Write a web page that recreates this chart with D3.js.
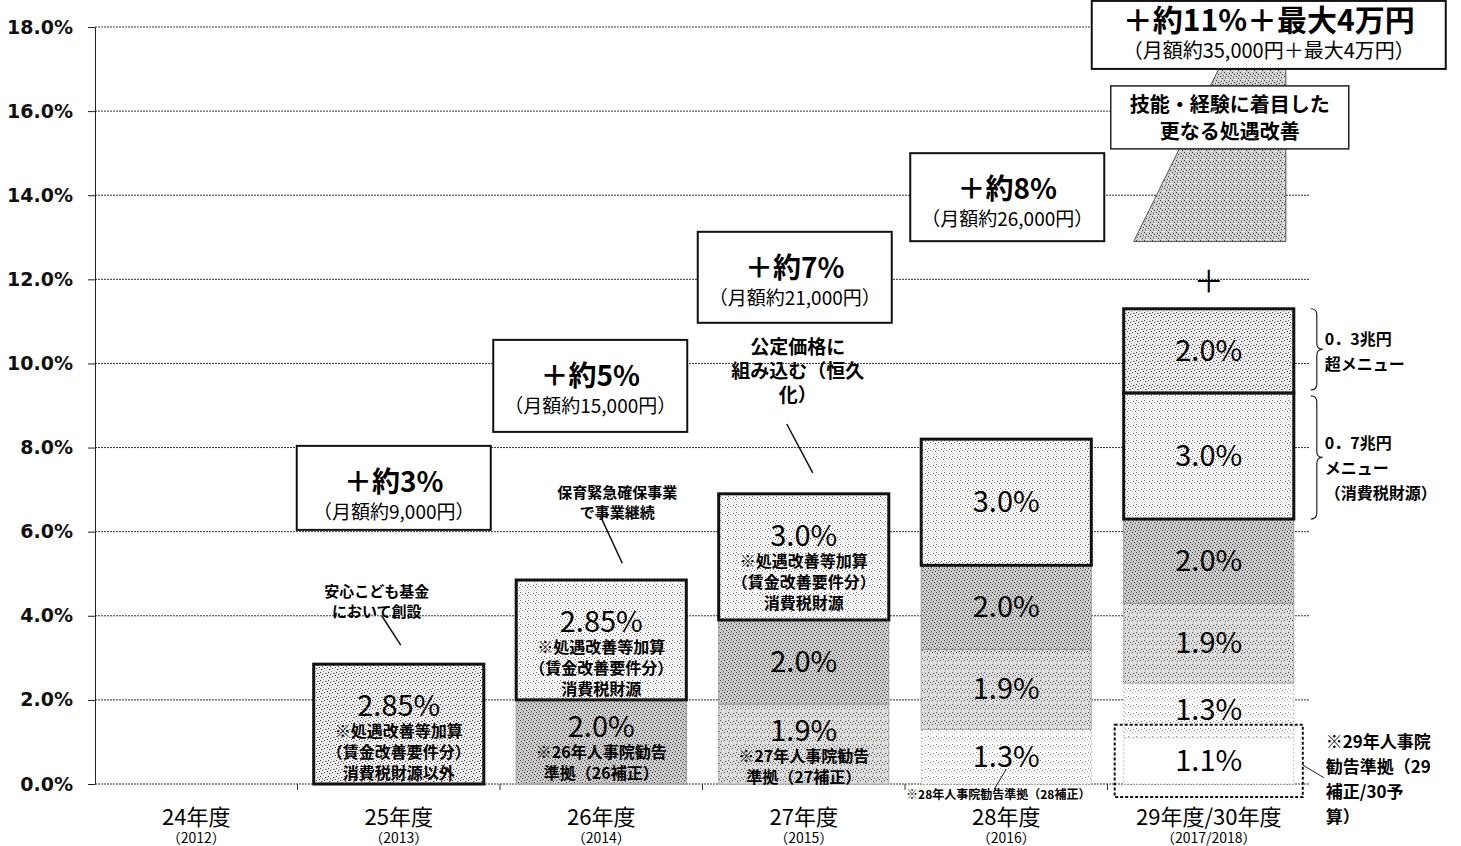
<!DOCTYPE html>
<html lang="ja">
<head>
<meta charset="utf-8">
<title>保育士等の処遇改善の推移</title>
<script src="https://d3js.org/d3.v7.min.js"></script>
<style>
body { margin: 0; background: #fff; }
text { font-family: "Noto Sans CJK JP", sans-serif; fill: #000; }
.grid line { stroke: #333; stroke-width: 1; stroke-dasharray: 2,1; }
.yaxis text { font-family: "DejaVu Sans", sans-serif; font-weight: bold; font-size: 19px; fill: #111; }
.yaxis path, .yaxis line { stroke: #222; }
</style>
</head>
<body>
<script>

// ---- data ----
var years   = ["24年度", "25年度", "26年度", "27年度", "28年度", "29年度/30年度"];
var yearsAD = ["（2012）", "（2013）", "（2014）", "（2015）", "（2016）", "（2017/2018）"];
var yTicks  = [0, 2, 4, 6, 8, 10, 12, 14, 16, 18];

// stacked segments, bottom to top (%)
var jinji29 = [0, 0, 0, 0, 0, 1.1];       // 29年人事院勧告準拠
var jinji28 = [0, 0, 0, 0, 1.3, 1.3];     // 28年人事院勧告準拠
var jinji27 = [0, 0, 0, 1.9, 1.9, 1.9];   // 27年人事院勧告準拠
var jinji26 = [0, 0, 2.0, 2.0, 2.0, 2.0]; // 26年人事院勧告準拠
var shogu   = [0, 2.85, 2.85, 3.0, 3.0, 3.0]; // 処遇改善等加算
var menu03  = [0, 0, 0, 0, 0, 2.0];       // 0.3兆円超メニュー

var totalLabels   = ["", "＋約3%", "＋約5%", "＋約7%", "＋約8%", "＋約11%＋最大4万円"];
var monthlyLabels = ["", "（月額約9,000円）", "（月額約15,000円）", "（月額約21,000円）", "（月額約26,000円）", "（月額約35,000円＋最大4万円）"];

var shoguNotes = [[], ["※処遇改善等加算", "（賃金改善要件分）", "消費税財源以外"],
                  ["※処遇改善等加算", "（賃金改善要件分）", "消費税財源"],
                  ["※処遇改善等加算", "（賃金改善要件分）", "消費税財源"], [], []];
var jinji26Notes = [[], [], ["※26年人事院勧告", "準拠（26補正）"], [], [], []];
var jinji27Notes = [[], [], [], ["※27年人事院勧告", "準拠（27補正）"], [], []];

var callout25 = ["安心こども基金", "において創設"];
var callout26 = ["保育緊急確保事業", "で事業継続"];
var callout27 = ["公定価格に", "組み込む（恒久", "化）"];
var note28 = "※28年人事院勧告準拠（28補正）";
var note29 = ["※29年人事院", "勧告準拠（29", "補正/30予", "算）"];
var menuLabels03 = ["0．3兆円", "超メニュー"];
var menuLabels07 = ["0．7兆円", "メニュー", "（消費税財源）"];
var ginouLabel = ["技能・経験に着目した", "更なる処遇改善"];

// ---- layout ----
var width = 1461, height = 846;
var margin = {top: 27, right: 151, bottom: 62, left: 95};

var x = d3.scaleBand().domain(years)
  .range([margin.left, width - margin.right])
  .paddingInner(0.16).paddingOuter(0.08);
var y = d3.scaleLinear().domain([0, 18]).range([height - margin.bottom, margin.top]);

var svg = d3.select("body").append("svg")
  .attr("width", width).attr("height", height);

// stipple patterns
var defs = svg.append("defs");
var scatter = [[0,0],[5,1],[2,2],[7,3],[4,4],[1,5],[6,6],[3,7],[2,5],[6,1],[0,3],[4,7],[7,5],[1,2],[5,3],[3,0]];
function pattern(id, bg, dark, nDark, light, nLight) {
  var p = defs.append("pattern").attr("id", id).attr("patternUnits", "userSpaceOnUse")
    .attr("width", 8).attr("height", 8);
  p.append("rect").attr("width", 8).attr("height", 8).attr("fill", bg);
  scatter.forEach(function(d, k) {
    var c = k < nDark ? dark : (k < nDark + nLight ? light : null);
    if (!c) return;
    p.append("rect").attr("x", d[0]).attr("y", d[1]).attr("width", 1).attr("height", 1).attr("fill", c);
  });
}
pattern("pShogu", "#f7f7f7", "#666", 4, "#bbb", 3);
pattern("pCross", "#eeeeee", "#444", 6, "#aaa", 4);
pattern("p26", "#c4c4c4", "#444", 8, "#eee", 5);
pattern("p27", "#d8d8d8", "#555", 6, "#f4f4f4", 5);
pattern("p28", "#fbfbfb", "#888", 3, "#ccc", 3);
pattern("pGinou", "#cccccc", "#444", 7, "#f0f0f0", 5);

// gridlines
svg.append("g").attr("class", "grid")
  .selectAll("line").data(yTicks.filter(function(d) { return d > 0; })).join("line")
  .attr("x1", margin.left).attr("x2", width - margin.right)
  .attr("y1", function(d) { return y(d); }).attr("y2", function(d) { return y(d); });

// y axis
svg.append("g").attr("class", "yaxis")
  .attr("transform", "translate(" + margin.left + ",0)")
  .call(d3.axisLeft(y).tickValues(yTicks).tickSize(7).tickSizeOuter(0).tickPadding(15)
    .tickFormat(function(d) { return d.toFixed(1) + "%"; }));

// x baseline and band boundary ticks
var base = y(0);
svg.append("line").attr("x1", margin.left).attr("x2", width - margin.right)
  .attr("y1", base).attr("y2", base)
  .attr("stroke", "#333").attr("stroke-dasharray", "2,1");
var gap = (x.step() - x.bandwidth()) / 2;
svg.append("g").selectAll("line").data(years.slice(1)).join("line")
  .attr("x1", function(d) { return x(d) - gap; }).attr("x2", function(d) { return x(d) - gap; })
  .attr("y1", base).attr("y2", base + 6).attr("stroke", "#333");

// x labels
var xl = svg.append("g").selectAll("g").data(years).join("g")
  .attr("transform", function(d) { return "translate(" + (x(d) + x.bandwidth() / 2) + ",0)"; });
xl.append("text").attr("y", 825).attr("text-anchor", "middle").style("font-size", "22px")
  .text(function(d) { return d; });
xl.append("text").attr("y", 843).attr("text-anchor", "middle").style("font-size", "14px")
  .text(function(d, i) { return yearsAD[i]; });

// 29年度: further improvement shape (behind the boxes)
var b29 = years[5], bx29 = x(b29), bw29 = x.bandwidth();
var ginouBottom = 12.9, ginouTop = 17.0;
svg.append("path")
  .attr("d", "M" + (bx29 + 10) + "," + y(ginouBottom) + "L" + (bx29 + 95) + "," + y(ginouTop)
    + "L" + (bx29 + bw29 - 8) + "," + y(ginouTop) + "L" + (bx29 + bw29 - 8) + "," + y(ginouBottom) + "Z")
  .attr("fill", "url(#pGinou)").attr("stroke", "#555").attr("stroke-width", 1);

// stacked bars
var keys = ["jinji29", "jinji28", "jinji27", "jinji26", "shogu", "menu03"];
var table = years.map(function(yr, i) {
  return {year: yr, jinji29: jinji29[i], jinji28: jinji28[i], jinji27: jinji27[i],
          jinji26: jinji26[i], shogu: shogu[i], menu03: menu03[i]};
});
var series = d3.stack().keys(keys)(table);

var segStyle = {
  jinji29: {fill: "#ffffff", stroke: "#bbb", sw: 1, dash: "2,2"},
  jinji28: {fill: "url(#p28)", stroke: "#bbb", sw: 1, dash: "2,2"},
  jinji27: {fill: "url(#p27)", stroke: "#aaa", sw: 1, dash: null},
  jinji26: {fill: "url(#p26)", stroke: "#999", sw: 1, dash: null},
  shogu:   {fill: "url(#pShogu)", stroke: "#111", sw: 3, dash: null},
  menu03:  {fill: "url(#pCross)", stroke: "#111", sw: 3, dash: null}
};
var segNotes = {shogu: shoguNotes, jinji26: jinji26Notes, jinji27: jinji27Notes};

series.forEach(function(s) {
  var st = segStyle[s.key];
  s.forEach(function(d, i) {
    var v = d[1] - d[0];
    if (v <= 0) return;
    var bx = x(d.data.year), bw = x.bandwidth();
    var top = y(d[1]), bot = y(d[0]);
    var fill = st.fill;
    if (s.key === "shogu" && i === 1) fill = "url(#pCross)";
    svg.append("rect")
      .attr("x", bx).attr("y", top).attr("width", bw).attr("height", bot - top)
      .attr("fill", fill).attr("stroke", st.stroke).attr("stroke-width", st.sw)
      .attr("stroke-dasharray", st.dash);
  });
});

// segment labels (drawn after all rects)
series.forEach(function(s) {
  s.forEach(function(d, i) {
    var v = d[1] - d[0];
    if (v <= 0.001) return;
    var cx = x(d.data.year) + x.bandwidth() / 2;
    var top = y(d[1]), bot = y(d[0]);
    var r = Math.round(v * 100);
    var label = (r % 10 !== 0 ? (r / 100).toFixed(2) : (r / 100).toFixed(1)) + "%";
    var notes = segNotes[s.key] ? segNotes[s.key][i] : [];
    var ly, ny0, nstep = 21;
    if (notes.length === 3) { ly = top + 52; ny0 = top + 73; }
    else if (notes.length === 2) { ly = top + 37; ny0 = top + 58; }
    else { ly = (top + bot) / 2 + 10; }
    svg.append("text").attr("x", cx).attr("y", ly).attr("text-anchor", "middle")
      .style("font-size", "29px").text(label);
    notes.forEach(function(n, j) {
      svg.append("text").attr("x", cx).attr("y", ny0 + j * nstep).attr("text-anchor", "middle")
        .style("font-size", "16px").style("font-weight", "bold").text(n);
    });
  });
});

// total boxes
var boxTop = [null, 8.04, 10.56, 13.13, 15.0, 18.62];
var boxW   = [0, 194, 194, 194, 194, 354];
var boxH   = [0, 84, 92, 91, 88, 68];
var boxDx  = [0, -5, -11, -9, 1, 60];
years.forEach(function(yr, i) {
  if (!totalLabels[i]) return;
  var cx = x(yr) + x.bandwidth() / 2 + boxDx[i];
  var t = y(boxTop[i]);
  var big = i === 5;
  svg.append("rect").attr("x", cx - boxW[i] / 2).attr("y", t).attr("width", boxW[i]).attr("height", boxH[i])
    .attr("fill", "#fff").attr("stroke", "#111").attr("stroke-width", 2);
  svg.append("text").attr("x", cx).attr("y", t + (big ? 30 : 46)).attr("text-anchor", "middle")
    .style("font-size", big ? "30px" : "28px").style("font-weight", "bold").text(totalLabels[i]);
  svg.append("text").attr("x", cx).attr("y", t + (big ? 57 : 73)).attr("text-anchor", "middle")
    .style("font-size", big ? "20px" : "19px").text(monthlyLabels[i]);
});

// 技能・経験 box
var gx = bx29 + bw29 / 2 + 21;
svg.append("rect").attr("x", gx - 119).attr("y", y(16.6)).attr("width", 238).attr("height", 63)
  .attr("fill", "#fff").attr("stroke", "#222").attr("stroke-width", 1.5);
ginouLabel.forEach(function(t, j) {
  svg.append("text").attr("x", gx).attr("y", y(16.6) + 26 + j * 27).attr("text-anchor", "middle")
    .style("font-size", "20px").style("font-weight", "bold").text(t);
});

svg.append("text").attr("x", bx29 + bw29 / 2).attr("y", y(12.0)).attr("text-anchor", "middle")
  .attr("dominant-baseline", "central").style("font-size", "30px").text("＋");

// braces
var s29 = series.map(function(s) { return s[5]; });
function brace(x0, ya, yb) {
  var ym = (ya + yb) / 2;
  return "M" + x0 + "," + ya + "Q" + (x0 + 6) + "," + ya + " " + (x0 + 6) + "," + (ya + 6)
    + "L" + (x0 + 6) + "," + (ym - 6) + "Q" + (x0 + 6) + "," + ym + " " + (x0 + 12) + "," + ym
    + "Q" + (x0 + 6) + "," + ym + " " + (x0 + 6) + "," + (ym + 6)
    + "L" + (x0 + 6) + "," + (yb - 6) + "Q" + (x0 + 6) + "," + yb + " " + x0 + "," + yb;
}
var braceX = bx29 + bw29 + 17;
var menuSeg = s29[5], shoguSeg = s29[4];
svg.append("path").attr("d", brace(braceX, y(menuSeg[1]), y(menuSeg[0]) - 3))
  .attr("fill", "none").attr("stroke", "#222").attr("stroke-width", 1.2);
svg.append("path").attr("d", brace(braceX, y(shoguSeg[1]) + 3, y(shoguSeg[0])))
  .attr("fill", "none").attr("stroke", "#222").attr("stroke-width", 1.2);
menuLabels03.forEach(function(t, j) {
  svg.append("text").attr("x", braceX + 14).attr("y", y((menuSeg[0] + menuSeg[1]) / 2) - 6 + j * 25)
    .style("font-size", "16px").style("font-weight", "bold").text(t);
});
menuLabels07.forEach(function(t, j) {
  svg.append("text").attr("x", braceX + 14).attr("y", y((shoguSeg[0] + shoguSeg[1]) / 2) - 7 + j * 25)
    .style("font-size", "16px").style("font-weight", "bold").text(t);
});

// dotted frame round 29年人事院勧告 segment
var j29 = s29[0];
svg.append("rect").attr("x", bx29 - 9).attr("y", y(j29[1]) - 13).attr("width", bw29 + 18)
  .attr("height", y(0) - y(j29[1]) + 26)
  .attr("fill", "none").attr("stroke", "#111").attr("stroke-width", 2).attr("stroke-dasharray", "3,2");
svg.append("line").attr("x1", bx29 + bw29 + 9).attr("y1", y(0.45)).attr("x2", bx29 + bw29 + 30).attr("y2", y(0.15))
  .attr("stroke", "#222");
note29.forEach(function(t, j) {
  svg.append("text").attr("x", bx29 + bw29 + 32).attr("y", y(0.85) + j * 25)
    .style("font-size", "17px").style("font-weight", "bold").text(t);
});

// 28年 note below axis
var c28 = x(years[4]) + x.bandwidth() / 2;
svg.append("line").attr("x1", c28).attr("y1", y(0.35)).attr("x2", c28 - 12).attr("y2", y(-0.12))
  .attr("stroke", "#222");
svg.append("text").attr("x", c28 - 8).attr("y", 799).attr("text-anchor", "middle")
  .style("font-size", "12px").style("font-weight", "bold").text(note28);

// callouts
function callout(i, lines, textVal, size, lineFrom, lineTo, dx) {
  var cx = x(years[i]) + x.bandwidth() / 2 + dx;
  lines.forEach(function(t, j) {
    svg.append("text").attr("x", cx).attr("y", y(textVal) + j * (size + 5)).attr("text-anchor", "middle")
      .style("font-size", size + "px").style("font-weight", "bold").text(t);
  });
  svg.append("line").attr("x1", cx + lineFrom[0]).attr("y1", y(lineFrom[1]))
    .attr("x2", cx + lineTo[0]).attr("y2", y(lineTo[1])).attr("stroke", "#111").attr("stroke-width", 1.5);
}
callout(1, callout25, 4.45, 15, [5, 4.0], [24, 3.3], -22);
callout(2, callout26, 6.8, 15, [-17, 6.38], [5, 5.25], 16);
callout(3, callout27, 10.22, 19, [-11, 8.56], [15, 7.4], -6);

</script>
</body>
</html>
